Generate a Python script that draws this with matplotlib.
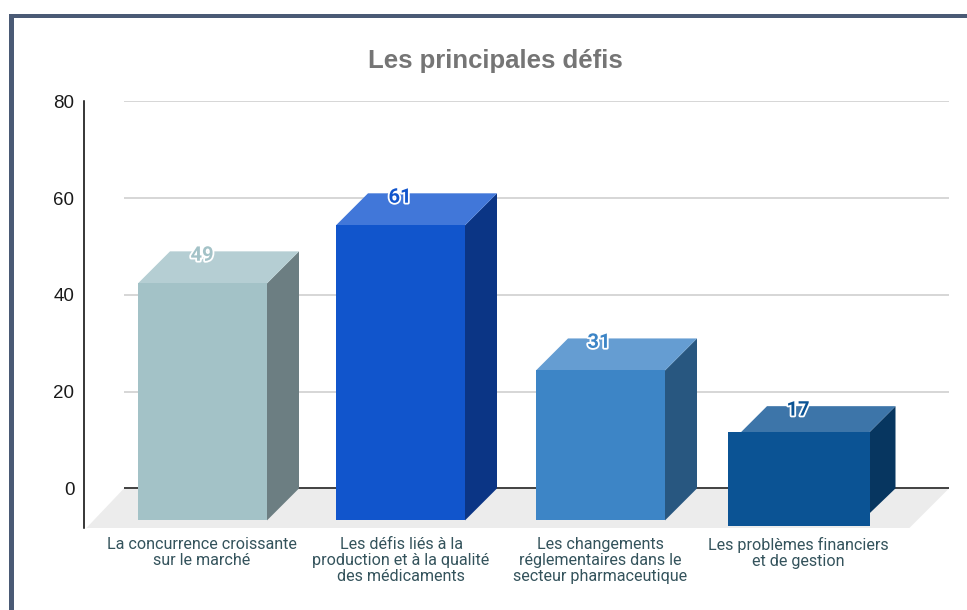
import matplotlib
matplotlib.use('Agg')
import matplotlib.pyplot as plt
import matplotlib.patheffects as pe
from matplotlib.patches import Polygon, Rectangle

categories = ['La concurrence croissante\nsur le marché',
              'Les défis liés à la\nproduction et à la qualité\ndes médicaments',
              'Les changements\nréglementaires dans le\nsecteur pharmaceutique',
              'Les problèmes financiers\net de gestion']
values = [49, 61, 31, 17]
y_ticks = [0, 20, 40, 60, 80]

front_colors = ['#a3c2c7', '#1155cc', '#3d85c6', '#0b5394']
top_colors = ['#b5ced3', '#4177d9', '#659dd2', '#3d75a9']
side_colors = ['#6c7e82', '#0b3585', '#285780', '#073660']

# x in pixels of the picture, bars are faked 3d
bar_left = [138, 336, 536, 741]
bar_width = [129, 129, 129, 128.5]
depth = [32, 32, 32, 26]
extra_left = [0, 0, 0, 13.5]
extra_down = [0, 0, 0, 13]
label_x = [202, 400, 599, 798]
cat_x = [202, 401, 600, 798]

W, H = 967, 610
shift = 0.4
px_per_unit = (488 - 101) / 80
y_bottom = -(528 - 488) / px_per_unit

fig = plt.figure(figsize=(W / 100, H / 100), dpi=100)
ax = fig.add_axes([84 / W, 1 - (528 + shift) / H, (949 - 84) / W, (528 - 101) / H])
ax.set_xlim(84, 949)
ax.set_ylim(y_bottom, 80)
ax.patch.set_alpha(0)

for s in ['top', 'right', 'bottom']:
    ax.spines[s].set_visible(False)
ax.spines['left'].set_linewidth(1.1)
ax.spines['left'].set_color('black')
ax.set_xticks([])
ax.set_yticks(y_ticks)
ax.tick_params(axis='y', length=0, pad=7)
for t in ax.get_yticklabels():
    t.set_fontfamily('Liberation Sans')
    t.set_fontsize(13.5)
    t.set_color('#1a1a1a')

# floor and grid
ax.add_patch(Polygon([(86, y_bottom), (124, 0), (949, 0), (909, y_bottom)],
                     closed=True, fc='#ececec', ec='none', zorder=1))
ax.hlines([v for v in y_ticks if v != 0], 124, 949, color='#cccccc', lw=1.1, zorder=1)
ax.hlines(0, 124, 949, color='#333333', lw=1.3, zorder=2)

for i, v in enumerate(values):
    x0 = bar_left[i]
    x1 = x0 + bar_width[i]
    d = depth[i]
    dy = d / px_per_unit
    low = -(d - 1 if i == 3 else d) / px_per_unit
    ax.add_patch(Polygon([(x1, v - dy), (x1 + d, v), (x1 + d, 0), (x1, low)],
                         closed=True, fc=side_colors[i], ec='none', zorder=3))
    ax.add_patch(Polygon([(x0, v - dy), (x0 + d, v), (x1 + d, v), (x1, v - dy)],
                         closed=True, fc=top_colors[i], ec='none', zorder=3))
    bottom = low - extra_down[i] / px_per_unit
    ax.add_patch(Rectangle((x0 - extra_left[i], bottom), bar_width[i] + extra_left[i], v - dy - bottom,
                           fc=front_colors[i], ec='none', zorder=4))
    ax.annotate(str(v), xy=(label_x[i], v), xytext=(0, -2.8), textcoords='offset points',
                ha='center', va='center', fontsize=14.5, fontweight='bold', family='Roboto',
                color=front_colors[i], zorder=5,
                path_effects=[pe.withStroke(linewidth=2.6, foreground='white')])

for x, c in zip(cat_x, categories):
    ax.annotate(c, xy=(x, y_bottom), xytext=(0, -6.0), textcoords='offset points',
                ha='center', va='top', fontsize=11.6, family='Roboto', color='#34535c',
                linespacing=1.09, annotation_clip=False)

fig.text(495 / W, 1 - 61.3 / H, 'Les principales défis', ha='center', va='center',
         fontsize=18.5, fontweight='bold', family='Liberation Sans', color='#757575')

# frame of the screenshot, only top and left show
frame = '#4a5a75'
fig.add_artist(Rectangle((9 / W, 0), 4.5 / W, 1 - 14 / H, transform=fig.transFigure, fc=frame, ec='none'))
fig.add_artist(Rectangle((9 / W, 1 - 18 / H), 1 - 9 / W, 4 / H, transform=fig.transFigure, fc=frame, ec='none'))

fig.savefig('out.png', dpi=100)
